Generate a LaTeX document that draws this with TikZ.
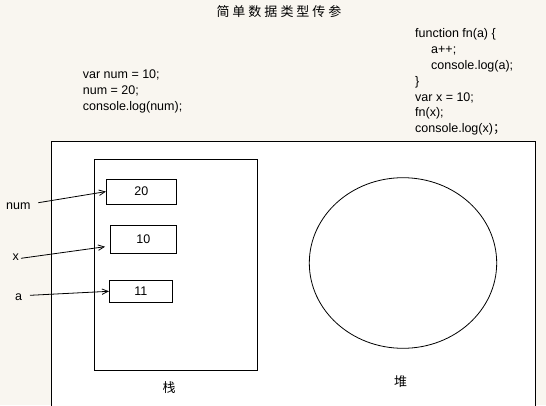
\documentclass[tikz,border=0pt]{standalone}
\usepackage{fontspec}
\setmainfont{Liberation Sans}
\newfontfamily\cjk{Noto Sans CJK SC}
\usetikzlibrary{shapes.geometric,arrows.meta}
\definecolor{bgcol}{RGB}{249,246,240}
\tikzset{
  code/.style={anchor=base west,inner sep=0pt,font=\fontsize{12.5}{16}\selectfont},
  lbl/.style={inner sep=0pt,font=\fontsize{12.5}{16}\selectfont},
  cjklbl/.style={inner sep=0pt,font=\cjk\fontsize{13}{16}\selectfont},
  valbox/.style={draw,line width=0.8pt,inner sep=0pt,font=\fontsize{12.5}{16}\selectfont},
  ptr/.style={line width=0.8pt,-{Straight Barb[length=6pt,width=5.5pt,line width=0.8pt]}},
}
\begin{document}
\begin{tikzpicture}[x=1pt,y=-1pt]
\useasboundingbox (0,0) rectangle (546,405);
\fill[bgcol] (0,0) rectangle (546,405);
\begin{scope}
\clip (0,0) rectangle (546,405);
\draw[line width=1.2pt,fill=white] (51.5,141.5) rectangle (535.5,430);
\end{scope}

% title
\node[cjklbl] (title) at (279,12) {简\hspace{3pt}单\hspace{3pt}数\hspace{3pt}据\hspace{3pt}类\hspace{3pt}型\hspace{3pt}传\hspace{3pt}参};

% left code
\node[code] (l1) at (82.7,78.5) {var num = 10;};
\node[code] (l2) at (82.7,94.5) {num = 20;};
\node[code] (l3) at (82.7,110.5) {console.log(num);};

% right code
\node[code] (r1) at (415,37.8) {function fn(a) \{};
\node[code] (r2) at (431,53.6) {a++;};
\node[code] (r3) at (431,69.4) {console.log(a);};
\node[code] (r4) at (415,85.2) {\}};
\node[code] (r5) at (415,101) {var x = 10;};
\node[code] (r6) at (415,116.8) {fn(x);};
\node[code] (r7) at (415,132.6) {console.log(x){\cjk ；}};

% stack
\node[draw,line width=0.8pt,minimum width=163pt,minimum height=210.7pt,inner sep=0pt] (stack) at (175.8,264.6) {};
\node[cjklbl] (stacklbl) at (169,388) {栈};

\node[valbox,minimum width=70pt,minimum height=24.7pt] (b20) at (141.3,191.6) {20};
\node[valbox,minimum width=66pt,minimum height=28pt] (b10) at (143.3,239.3) {10};
\node[valbox,minimum width=63pt,minimum height=22pt] (b11) at (140.8,291.3) {11};

% heap
\node[draw,ellipse,line width=0.8pt,minimum width=187.4pt,minimum height=170.6pt,inner sep=0pt] (heap) at (403,263) {};
\node[cjklbl] (heaplbl) at (400.7,381.7) {堆};

% variable labels
\node[lbl] (num) at (18.3,205.7) {num};
\node[lbl] (xv) at (15.7,256.7) {x};
\node[lbl] (av) at (18.7,297.3) {a};

\coordinate (numS) at (38.3,202.7);
\coordinate (xS) at (21,258.3);
\coordinate (aS) at (30,295.3);
\coordinate (xE) at (105,246.7);

\draw[ptr] (numS) -- (b20.west);
\draw[ptr] (xS) -- (xE);
\draw[ptr] (aS) -- (b11.west);
\end{tikzpicture}
\end{document}
